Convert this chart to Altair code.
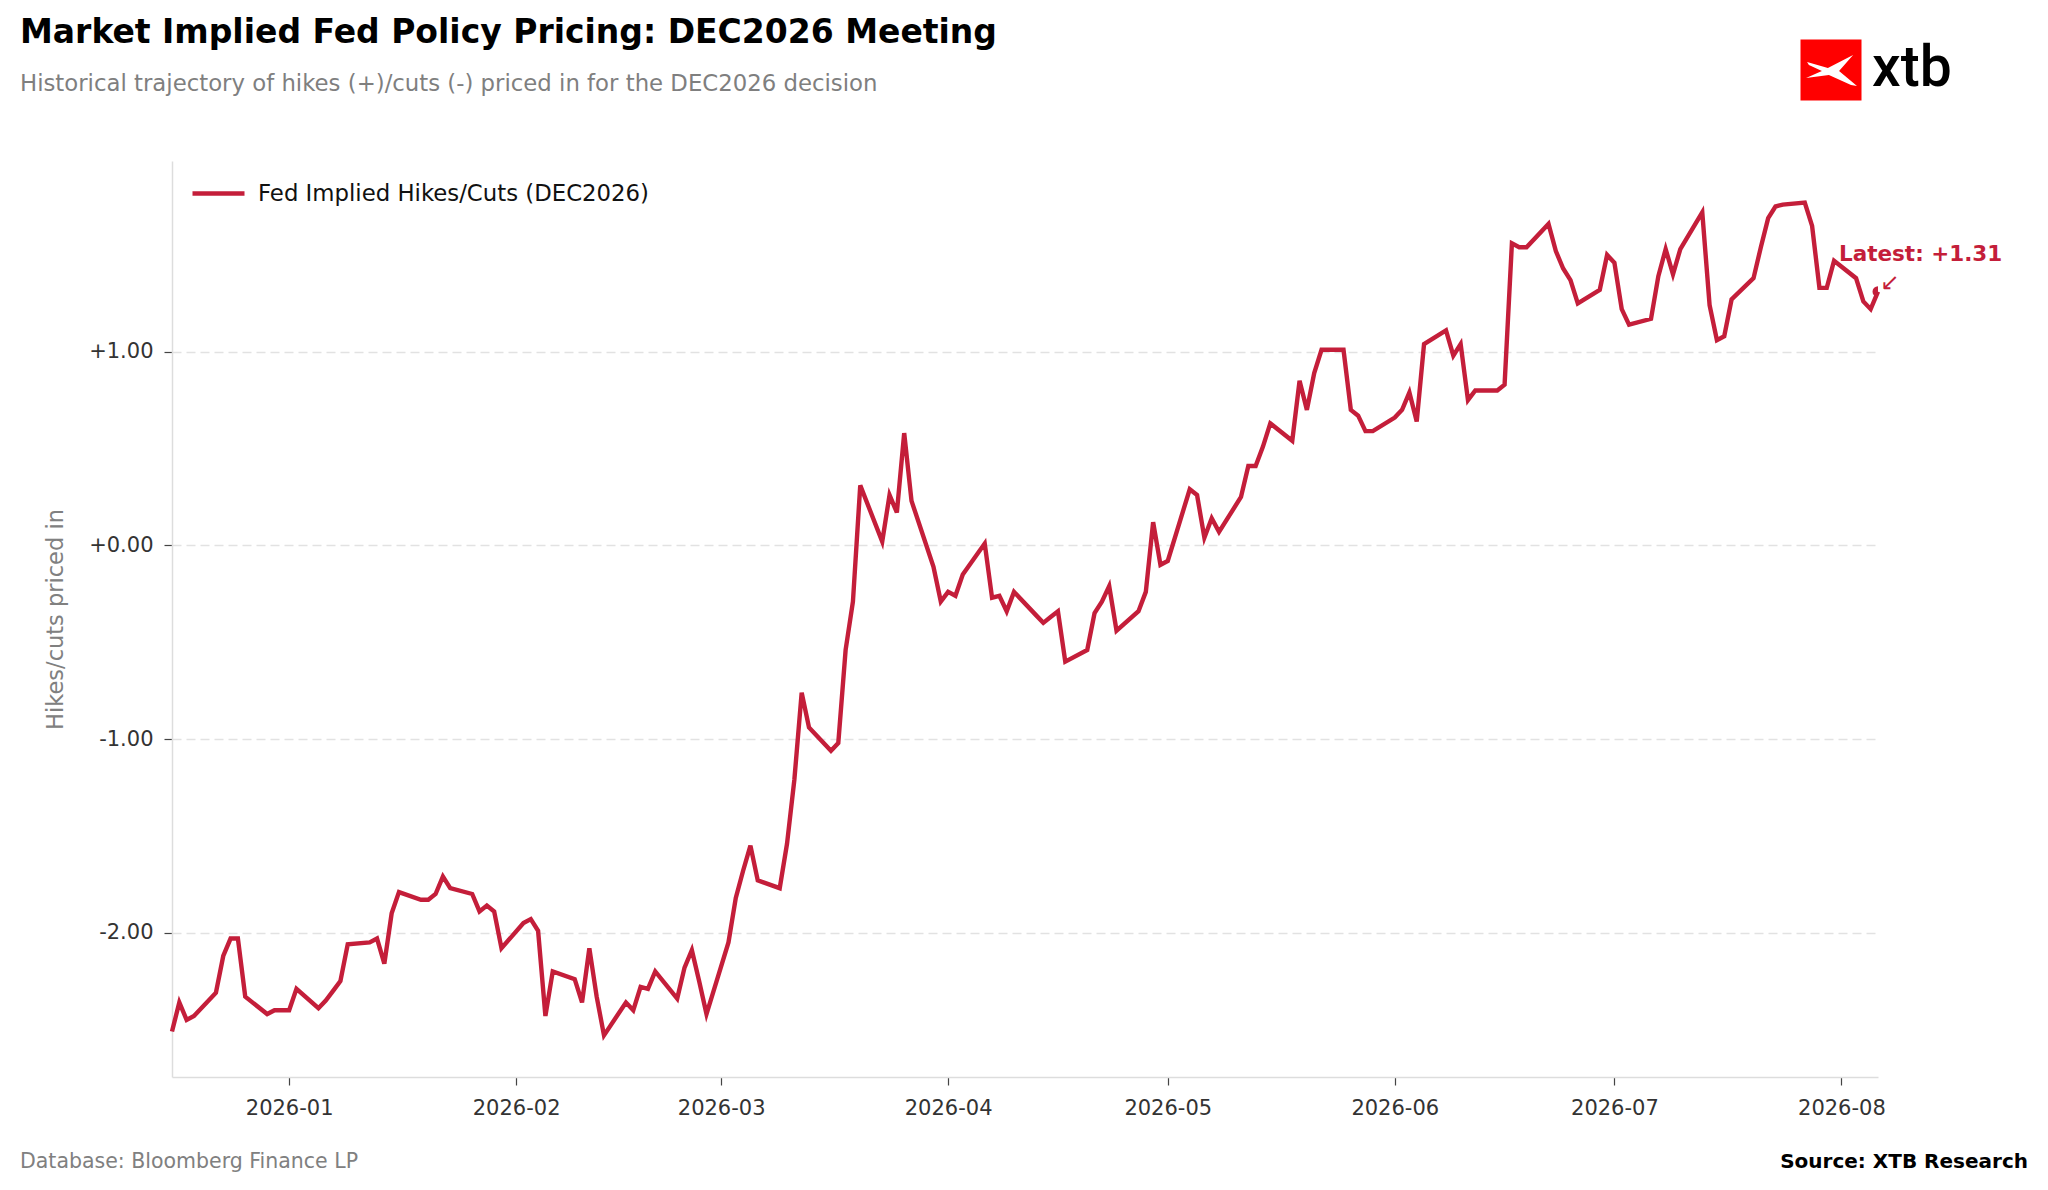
import pandas as pd
import altair as alt

RED = "#C41E3A"
FONT = "DejaVu Sans"
SERIES = "Fed Implied Hikes/Cuts (DEC2026)"

TITLE = "Market Implied Fed Policy Pricing: DEC2026 Meeting"
SUBTITLE = "Historical trajectory of hikes (+)/cuts (-) priced in for the DEC2026 decision"
FOOT_LEFT = "Database: Bloomberg Finance LP"
FOOT_RIGHT = "Source: XTB Research"

# hikes (+) / cuts (-) priced in, one value per business day
DEC_2025 = [-2.51, -2.36, -2.45, -2.43, -2.31, -2.12, -2.03, -2.03, -2.33, -2.42, -2.40, -2.40]
JAN_2026 = [-2.40, -2.29, -2.39, -2.35, -2.30, -2.25, -2.06, -2.05, -2.03, -2.16, -1.90,
            -1.79, -1.83, -1.83, -1.80, -1.71, -1.77, -1.80, -1.89, -1.86, -1.89, -2.08]
FEB_2026 = [-1.95, -1.93, -1.99, -2.43, -2.20, -2.24, -2.36, -2.08, -2.33, -2.53,
            -2.36, -2.40, -2.28, -2.29, -2.20, -2.34, -2.18, -2.09, -2.25, -2.42]
MAR_2026 = [-2.05, -1.82, -1.68, -1.55, -1.73, -1.77, -1.54, -1.21, -0.76, -0.94, -1.06,
            -1.02, -0.54, -0.29, 0.31, 0.02, 0.26, 0.17, 0.58, 0.23, -0.11, -0.29]
APR_2026 = [-0.24, -0.26, -0.15, 0.01, -0.27, -0.26, -0.34, -0.24, -0.36, -0.40, -0.37,
            -0.34, -0.60, -0.54, -0.35, -0.29, -0.21, -0.44, -0.34, -0.24, 0.12, -0.10]
MAY_2026 = [-0.08, 0.29, 0.26, 0.04, 0.14, 0.07, 0.25, 0.41, 0.41, 0.51, 0.63,
            0.54, 0.85, 0.70, 0.89, 1.01, 1.01, 0.70, 0.67, 0.59, 0.59]
JUN_2026 = [0.66, 0.70, 0.79, 0.64, 1.04, 1.11, 0.98, 1.04, 0.75, 0.80, 0.80,
            0.83, 1.56, 1.54, 1.54, 1.66, 1.52, 1.43, 1.37, 1.25, 1.32, 1.50]
JUL_2026 = [1.46, 1.22, 1.14, 1.17, 1.39, 1.53, 1.40, 1.53, 1.72, 1.24, 1.06, 1.08,
            1.27, 1.38, 1.54, 1.69, 1.75, 1.76, 1.77, 1.65, 1.33, 1.33, 1.47]
AUG_2026 = [1.38, 1.26, 1.22, 1.31]

Y_TICKS = [-2, -1, 0, 1]
Y_DOMAIN = [-2.745, 1.985]

values = DEC_2025 + JAN_2026 + FEB_2026 + MAR_2026 + APR_2026 + MAY_2026 + JUN_2026 + JUL_2026 + AUG_2026
dates = pd.bdate_range("2025-12-16", "2026-08-06")
assert len(dates) == len(values)

df = pd.DataFrame({"date": dates.strftime("%Y-%m-%d"), "value": values, "series": SERIES})
last = df.tail(1).copy()
last["label"] = f"Latest: {values[-1]:+.2f}"

W, H = 1706, 916

x_enc = alt.X(
    "date:T",
    scale=alt.Scale(
        type="utc",
        nice=False,
        domain=[alt.DateTime(year=2025, month=12, date=16, utc=True),
                alt.DateTime(year=2026, month=8, date=6, utc=True)],
    ),
    axis=alt.Axis(
        format="%Y-%m",
        tickCount=alt.TimeIntervalStep(interval="month", step=1),
        title=None,
        grid=False,
        labelPadding=12,
        labelFlush=False,
    ),
)
y_enc = alt.Y(
    "value:Q",
    scale=alt.Scale(domain=Y_DOMAIN, nice=False, zero=False),
    axis=alt.Axis(
        values=Y_TICKS,
        labelExpr="(datum.value >= 0 ? '+' : '-') + format(abs(datum.value), '.2f')",
        grid=True,
        gridDash=[9, 5],
        gridColor="#e2e2e2",
        gridWidth=1.3,
        labelPadding=11,
        title="Hikes/cuts priced in",
        titleFont=FONT,
        titleFontSize=22.5,
        titleFontWeight="normal",
        titleColor="#808080",
        titleX=-117,
        titleY=H / 2,
        titleAngle=270,
        titleAlign="center",
        titleBaseline="middle",
    ),
)

line = alt.Chart(df).mark_line(strokeWidth=4.4).encode(
    x=x_enc,
    y=y_enc,
    color=alt.Color(
        "series:N",
        scale=alt.Scale(domain=[SERIES], range=[RED]),
        legend=alt.Legend(
            title=None,
            orient="none",
            legendX=18,
            legendY=4,
            padding=0,
            symbolType="stroke",
            symbolStrokeWidth=4.4,
            symbolSize=2704,
            labelOffset=11,
            labelLimit=0,
            labelFont=FONT,
            labelFontSize=22.8,
            labelColor="#111111",
        ),
    ),
)

dot = alt.Chart(last).mark_circle(size=120, opacity=1, color=RED, clip=True).encode(
    x="date:T", y="value:Q"
)
latest_label = alt.Chart(last).mark_text(
    align="left", baseline="alphabetic", dx=-39, dy=-31,
    font=FONT, fontSize=21.5, fontWeight="bold", color=RED,
).encode(x="date:T", y="value:Q", text="label:N")
latest_arrow = alt.Chart(last).mark_text(
    align="center", baseline="middle", dx=12, dy=-9,
    font=FONT, fontSize=23, color=RED,
).encode(x="date:T", y="value:Q", text=alt.value("↙"))

# header, logo and footer
one = pd.DataFrame({"k": [0]})
title = alt.Chart(one).mark_text(
    align="left", baseline="alphabetic", font=FONT, fontSize=33, fontWeight="bold", color="#000000"
).encode(x=alt.value(-152), y=alt.value(-118), text=alt.value(TITLE))
subtitle = alt.Chart(one).mark_text(
    align="left", baseline="alphabetic", font=FONT, fontSize=22.8, color="#7f7f7f"
).encode(x=alt.value(-152), y=alt.value(-70), text=alt.value(SUBTITLE))
logo_box = alt.Chart(one).mark_square(size=3721, opacity=1, color="#FF0000").encode(
    x=alt.value(1659), y=alt.value(-91)
)
logo_x = alt.Chart(one).mark_point(
    shape="M-0.92,-0.31L-0.12,-0.08L0.85,-0.58L0.31,0.04L1,0.62L0.77,0.58L-0.08,0.19"
          "L-0.96,0.31L-0.35,0.04L-0.85,-0.19Z",
    size=2704, filled=True, opacity=1, color="#FFFFFF",
).encode(x=alt.value(1659), y=alt.value(-91))
logo_text = alt.Chart(one).mark_text(
    align="left", baseline="alphabetic", font="Roboto", fontSize=57, fontWeight=500, color="#000000"
).encode(x=alt.value(1700), y=alt.value(-75), text=alt.value("xtb"))
foot_left = alt.Chart(one).mark_text(
    align="left", baseline="alphabetic", font=FONT, fontSize=20.5, color="#808080"
).encode(x=alt.value(-152), y=alt.value(1007), text=alt.value(FOOT_LEFT))
foot_right = alt.Chart(one).mark_text(
    align="right", baseline="alphabetic", font=FONT, fontSize=20, fontWeight="bold", color="#000000"
).encode(x=alt.value(1856), y=alt.value(1007), text=alt.value(FOOT_RIGHT))

chart = (
    alt.layer(line, dot, latest_label, latest_arrow, title, subtitle,
              logo_box, logo_x, logo_text, foot_left, foot_right)
    .properties(
        width=W,
        height=H,
        autosize=alt.AutoSizeParams(type="none"),
        padding={"left": 164, "top": 153, "right": 162, "bottom": 105},
    )
    .configure_view(strokeWidth=0)
    .configure_axis(
        domainColor="#dddddd",
        domainWidth=1.5,
        tickColor="#444444",
        tickSize=8,
        tickWidth=1.2,
        labelFont=FONT,
        labelFontSize=21,
        labelColor="#333333",
    )
)

chart.save("out.html", embed_options={"renderer": "svg", "actions": False})
